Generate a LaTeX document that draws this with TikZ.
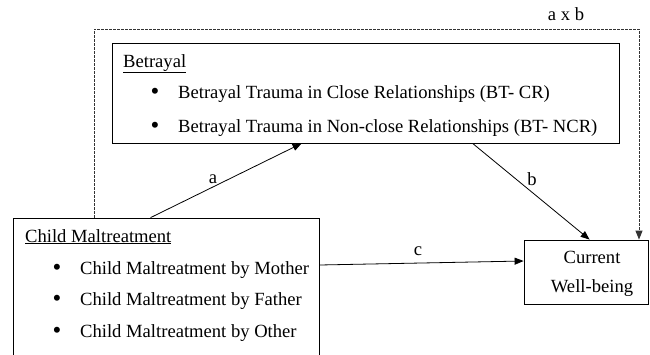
\documentclass[tikz,border=0pt]{standalone}
\usepackage{fontspec}
\setmainfont{Liberation Serif}
\usetikzlibrary{arrows.meta,calc}
\tikzset{
  box/.style={draw, line width=0.8pt, rectangle, inner sep=0pt},
  txt/.style={anchor=base west, inner sep=0pt, font=\fontsize{18.6}{20}\selectfont},
  ctxt/.style={anchor=base, inner sep=0pt, font=\fontsize{18.6}{20}\selectfont},
  bul/.style={anchor=base, inner sep=0pt, font=\fontsize{25}{26}\selectfont},
  arr/.style={line width=0.8pt, -{Triangle[length=9pt,width=7pt]}},
  dot/.style={line width=1pt, gray!40!black, dash pattern=on 2.5pt off 1.5pt, -{Triangle[length=9pt,width=7pt]}}
}
\newcommand{\ul}[1]{\underline{#1}}
\begin{document}
\begin{tikzpicture}[x=1pt,y=-1pt]
\clip (0,0) rectangle (650,354);
\useasboundingbox (0,0) rectangle (650,354);
% boxes
\node[box, minimum width=507pt, minimum height=100pt] (bet) at (365.5,93) {};
\node[box, minimum width=306pt, minimum height=138pt] (child) at (166,287) {};
\node[box, minimum width=124.5pt, minimum height=64pt] (cur) at (586.25,272) {};
% betrayal texts
\node[txt] (bt) at (123,67) {\ul{Betrayal}};
\node[bul] (bb1) at (155,99) {\textbullet};
\node[txt] (bt1) at (178,98) {Betrayal Trauma in Close Relationships (BT- CR)};
\node[bul] (bb2) at (155,133) {\textbullet};
\node[txt] (bt2) at (178,132) {Betrayal Trauma in Non-close Relationships (BT- NCR)};
% child texts
\node[txt] (ct) at (25,242) {\ul{Child Maltreatment}};
\node[bul] (cb1) at (57,275) {\textbullet};
\node[txt] (ct1) at (80,274) {Child Maltreatment by Mother};
\node[bul] (cb2) at (57,306) {\textbullet};
\node[txt] (ct2) at (80,305) {Child Maltreatment by Father};
\node[bul] (cb3) at (57,338) {\textbullet};
\node[txt] (ct3) at (80,337) {Child Maltreatment by Other};
% current texts
\node[ctxt] (cu1) at (592,263) {Current};
\node[ctxt] (cu2) at (592,292) {Well-being};
% labels
\node[ctxt] (lab) at (566,20) {a x b};
\node[ctxt] (la) at (213,183) {a};
\node[ctxt] (lb) at (532,185) {b};
\node[ctxt] (lc) at (418,255) {c};
% connectors
\draw[arr] ([xshift=138pt]child.north west) -- ([xshift=190pt]bet.south west);
\draw[arr] ([xshift=361pt]bet.south west) -- ([xshift=66pt]cur.north west);
\draw[arr] ([yshift=22pt]child.east) -- ([yshift=11pt]cur.west);
\coordinate (dl) at (94,29);
\coordinate (dr) at (639,29);
\draw[dot] (child.north -| dl) -- (dl) -- (dr) -- (dr |- cur.north);
\end{tikzpicture}
\end{document}
